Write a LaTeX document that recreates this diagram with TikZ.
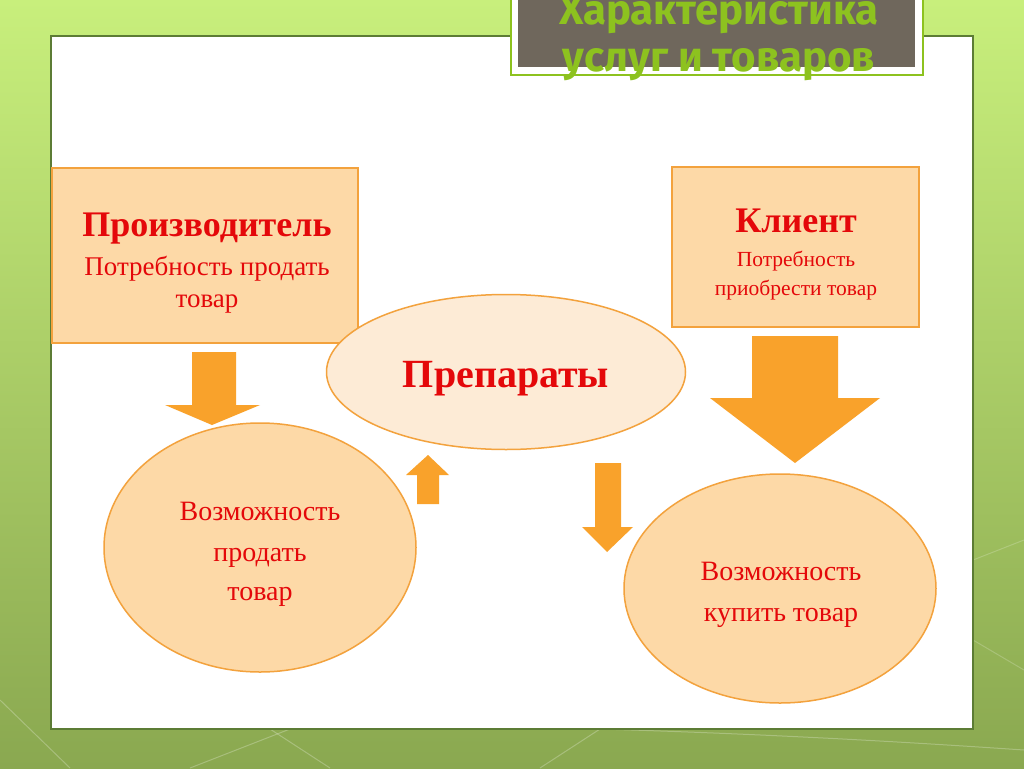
\documentclass[tikz,border=0pt]{standalone}
\usepackage{fontspec}
\setmainfont{Liberation Serif}
\newfontfamily\titlefont{Fira Sans}
\usetikzlibrary{shapes.geometric}

\definecolor{bgtop}{RGB}{200,239,124}
\definecolor{bgbottom}{RGB}{138,168,80}
\definecolor{panelline}{RGB}{92,124,53}
\definecolor{titlebox}{RGB}{111,103,92}
\definecolor{titlegreen}{RGB}{141,194,31}
\definecolor{peach}{RGB}{253,217,167}
\definecolor{lightpeach}{RGB}{253,235,214}
\definecolor{edgeorange}{RGB}{243,162,61}
\definecolor{arroworange}{RGB}{249,162,43}
\definecolor{textred}{RGB}{228,8,10}

\tikzset{
  sidebox/.style={rectangle, draw=edgeorange, fill=peach, line width=1.5pt, inner sep=0pt},
  oval/.style={ellipse, draw=edgeorange, fill=peach, line width=1.5pt, inner sep=0pt},
  redtext/.style={text=textred, anchor=base, inner sep=0pt},
  titletext/.style={text=titlegreen, anchor=base, inner sep=0pt, font=\titlefont\bfseries\fontsize{42}{46}\selectfont},
  arrowfill/.style={fill=arroworange}
}

\begin{document}
\begin{tikzpicture}[x=1pt,y=-1pt]
  \useasboundingbox (0,0) rectangle (1024,768);
  % background
  \shade[top color=bgtop, bottom color=bgbottom] (0,0) rectangle (1024,768);
  \draw[white, opacity=0.25, line width=1pt] (0,700) -- (70,768);
  \draw[white, opacity=0.25, line width=1pt] (190,768) -- (290,729);
  \draw[white, opacity=0.25, line width=1pt] (270,729) -- (330,768);
  \draw[white, opacity=0.25, line width=1pt] (540,768) -- (600,729);
  \draw[white, opacity=0.25, line width=1pt] (600,729) .. controls (800,735) and (950,745) .. (1024,750);
  \draw[white, opacity=0.2, line width=1pt] (973,560) -- (1024,540);
  \draw[white, opacity=0.2, line width=1pt] (973,640) -- (1024,670);
  % panel
  \draw[panelline, fill=white, line width=1.5pt] (51,36) rectangle (973,729);
  % title
  \draw[titlegreen, fill=white, line width=2pt] (511,-3) rectangle (923,75);
  \fill[titlebox] (518,-3) rectangle (915,67);
  \node[titletext] (t1) at (719,25) {Характеристика};
  \node[titletext] (t2) at (719,71) {услуг и товаров};

  % boxes
  \node[sidebox, minimum width=306pt, minimum height=175pt] (maker) at (205,255.5) {};
  \node[redtext, font=\bfseries\fontsize{36}{40}\selectfont] (maker1) at (207,236) {Производитель};
  \node[redtext, font=\fontsize{27}{32}\selectfont] (maker2) at (207,275) {Потребность продать};
  \node[redtext, font=\fontsize{27}{32}\selectfont] (maker3) at (207,307) {товар};

  \node[sidebox, minimum width=247pt, minimum height=160pt] (client) at (795.5,247) {};
  \node[redtext, font=\bfseries\fontsize{36}{40}\selectfont] (client1) at (796,232) {Клиент};
  \node[redtext, font=\fontsize{21.5}{29}\selectfont] (client2) at (796,266) {Потребность};
  \node[redtext, font=\fontsize{21.5}{29}\selectfont] (client3) at (796,295) {приобрести товар};

  % ellipses
  \node[oval, fill=lightpeach, minimum width=359pt, minimum height=155pt] (drugs) at (506,372) {};
  \node[redtext, font=\bfseries\fontsize{40}{44}\selectfont] (drugs1) at (506,387) {Препараты};

  \node[oval, minimum width=312pt, minimum height=249pt] (sell) at (260,547.5) {};
  \node[redtext, font=\fontsize{28}{40}\selectfont] (sell1) at (260,520) {Возможность};
  \node[redtext, font=\fontsize{28}{40}\selectfont] (sell2) at (260,561) {продать};
  \node[redtext, font=\fontsize{28}{40}\selectfont] (sell3) at (260,600) {товар};

  \node[oval, minimum width=312pt, minimum height=229pt] (buy) at (780,588.5) {};
  \node[redtext, font=\fontsize{28}{40}\selectfont] (buy1) at (781,580) {Возможность};
  \node[redtext, font=\fontsize{28}{40}\selectfont] (buy2) at (781,621) {купить товар};

  % block arrows
  \fill[arrowfill] (192,352) -- (236,352) -- (236,405) -- (260,405) -- (212,425) -- (165,405) -- (192,405) -- cycle;
  \fill[arrowfill] (752,336) -- (838,336) -- (838,398) -- (880,398) -- (795,463) -- (710,398) -- (752,398) -- cycle;
  \fill[arrowfill] (417,504) -- (439,504) -- (439,475) -- (449,475) -- (428,455) -- (406,475) -- (417,475) -- cycle;
  \fill[arrowfill] (595,463) -- (621,463) -- (621,527) -- (633,527) -- (607,552) -- (582,527) -- (595,527) -- cycle;
\end{tikzpicture}
\end{document}
